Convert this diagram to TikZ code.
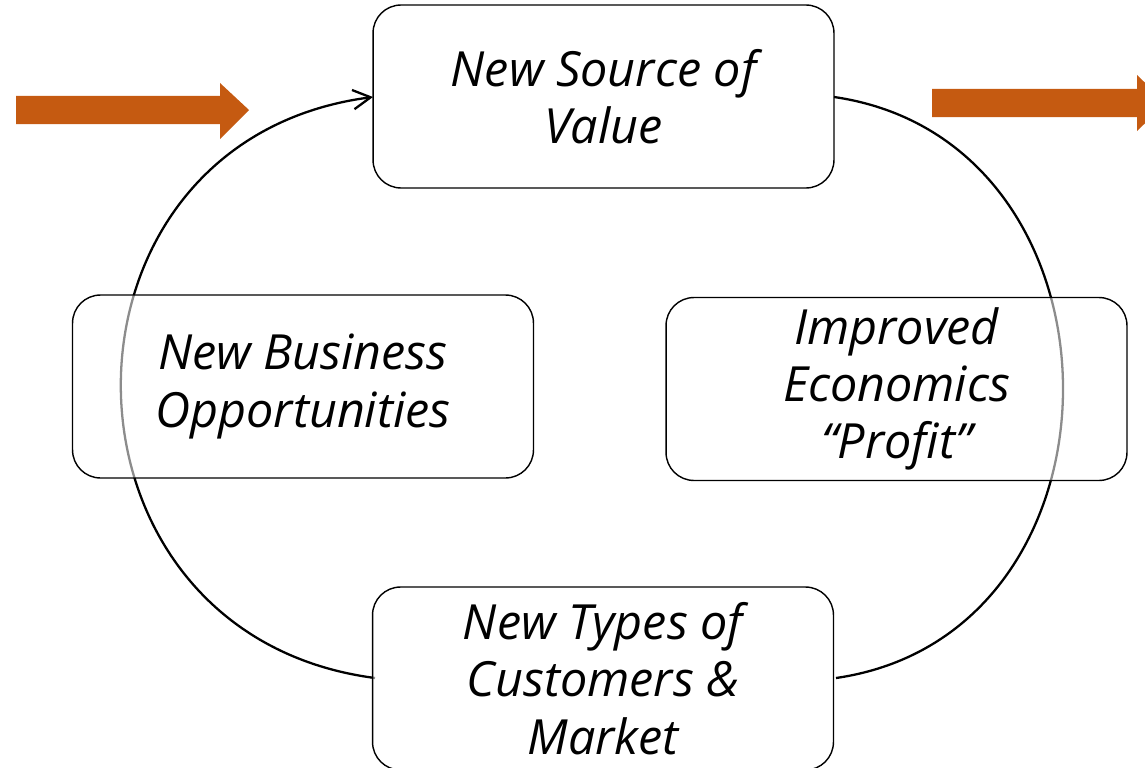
\documentclass[tikz,border=0pt]{standalone}
\usepackage{fontspec}
\setmainfont{Open Sans}
\usepackage{tikz}
\usetikzlibrary{arrows.meta,positioning}
\definecolor{rust}{HTML}{C55A11}

\begin{document}
\begin{tikzpicture}[x = 0.02cm, y = -0.02cm,
  stage/.style = {draw, line width = 0.8pt, fill = white, fill opacity = 0.55, text opacity = 1, shape = rectangle, rounded corners = 0.56cm, minimum width = 9.22cm, minimum height = 3.66cm, inner sep = 0pt, align = center, font = \fontsize{27.6}{32.6}\selectfont\itshape},
  loop/.style = {line width = 1.3pt},
  flow/.style = {fill = rust, draw = none}]
\useasboundingbox (0,0) rectangle (1145,767);
\clip (0,0) rectangle (1145,767);
% cycle, drawn first so the boxes lie over it
\coordinate (tw) at (373,97);
\coordinate (te) at (834,97);
\coordinate (bw) at (375,678);
\coordinate (be) at (836,678);
\draw[loop, -{Straight Barb[length = 10pt, width = 11pt]}] (bw) .. controls +(-337,-44) and +(-337,44) .. (tw);
\draw[loop] (te) .. controls +(304,44) and +(304,-44) .. (be);
% stages
\node[stage] (value) at (603.5,96.5) {New Source of\\Value};
\node[stage] (business) at (303,386.5) {New Business\\Opportunities};
\node[stage] (profit) at (896.5,389) {Improved\\Economics\\“Profit”};
\node[stage] (market) at (603,678.5) {New Types of\\Customers \&\\Market};
% in and out
\fill[flow] (16,96) -- (220,96) -- (220,83) -- (249,110) -- (220,139) -- (220,124) -- (16,124) -- cycle;
\fill[flow] (932,89) -- (1137,89) -- (1137,75) -- (1166,103) -- (1137,131) -- (1137,117) -- (932,117) -- cycle;
\end{tikzpicture}
\end{document}
